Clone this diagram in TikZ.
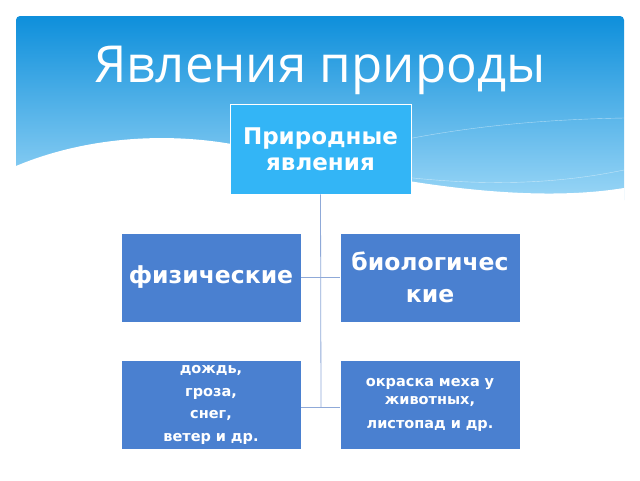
\documentclass[tikz,border=0pt]{standalone}
\usepackage{fontspec}
\setmainfont{DejaVu Sans}
\newfontfamily\titlefont{Open Sans}
\usetikzlibrary{positioning}
\definecolor{skytop}{HTML}{0E8FDB}
\definecolor{skylow}{HTML}{9AD6F6}
\definecolor{headbox}{HTML}{33B5F6}
\definecolor{itembox}{HTML}{4A80D0}
\definecolor{linkline}{HTML}{8FA9D8}
\tikzset{
  box/.style = {draw=white, line width=0.8pt, minimum width=180pt, minimum height=89pt,
    text=white, font=\bfseries, align=center, inner sep=2pt},
  link/.style = {draw=linkline, line width=0.8pt}
}
\begin{document}
\begin{tikzpicture}[x=1pt, y=-1pt]
	\useasboundingbox (0,0) rectangle (640,480);
	\fill[white] (0,0) rectangle (640,480);

	% sky band with a wavy lower edge
	\shade[top color=skytop, bottom color=skylow, rounded corners=4pt]
		(16,200) -- (16,16) -- (624,16) -- (624,200);
	\fill[white] (16,166) .. controls (90,135) and (180,130) .. (260,150)
		.. controls (380,180) and (520,205) .. (624,188) -- (624,201) -- (16,201) -- cycle;
	\draw[white, opacity=0.5] (200,145) .. controls (350,170) and (480,200) .. (624,170);
	\draw[white, opacity=0.5] (300,165) .. controls (420,130) and (520,120) .. (624,118);

	\node[text=white, font=\titlefont\fontsize{51}{56}\selectfont] (title) at (320,70) {Явления природы};

	% boxes
	\node[box, fill=headbox, font=\bfseries\fontsize{23}{26}\selectfont,
		minimum width=181pt, minimum height=90pt] (root) at (320.5,149) {Природные\\явления};
	\node[box, fill=itembox, font=\bfseries\fontsize{23.5}{26}\selectfont] (phys) at (211,277.5) {физические};
	\node[box, fill=itembox, font=\bfseries\fontsize{23.5}{32}\selectfont, text width=176pt] (bio) at (430,277.5) {биологичес\\кие};
	\node[box, fill=itembox, font=\bfseries\fontsize{14.5}{22.5}\selectfont, text width=170pt] (physex) at (211,405) {дождь,\\гроза,\\снег,\\ветер и др.};
	\node[box, fill=itembox, font=\bfseries\fontsize{14.5}{18}\selectfont, text width=170pt] (bioex) at (430,405) {окраска меха у\\животных,\\[6pt]листопад и др.};

	% connectors
	\coordinate (trunk) at (321,407);
	\draw[link] (root.south) -- (trunk);
	\draw[link] (phys.east) -- (bio.west);
	\draw[link] (physex.east |- trunk) -- (bioex.west |- trunk);
\end{tikzpicture}
\end{document}
